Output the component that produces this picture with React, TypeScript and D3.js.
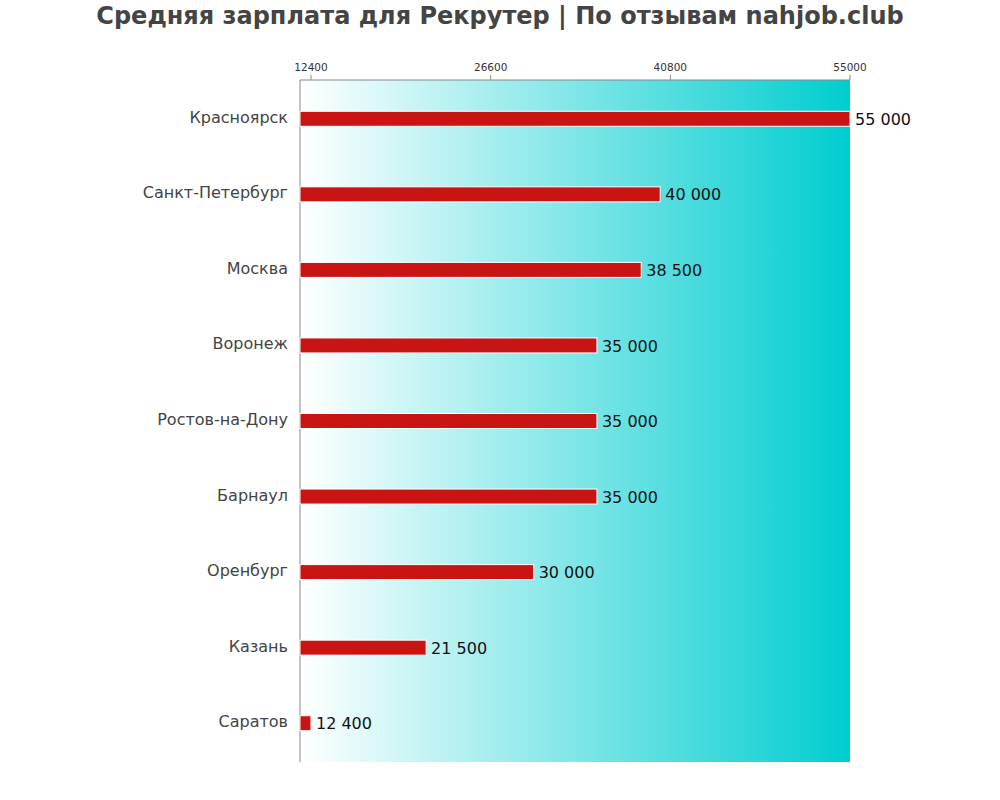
import React from 'react';
import * as d3 from 'd3';

const cities = ['Красноярск', 'Санкт-Петербург', 'Москва', 'Воронеж', 'Ростов-на-Дону', 'Барнаул', 'Оренбург', 'Казань', 'Саратов'];
const salaries = [55000, 40000, 38500, 35000, 35000, 35000, 30000, 21500, 12400];
const tickValues = [12400, 26600, 40800, 55000];

const width = 1000;
const height = 800;
const margin = { top: 80, right: 150, bottom: 38, left: 300 };

export default function App() {
  const innerW = width - margin.left - margin.right;
  const innerH = height - margin.top - margin.bottom;

  const x = d3.scaleLinear()
    .domain([d3.min(salaries)! * 0.93, d3.max(salaries)!])
    .range([0, innerW]);

  // bars sit a hair lower than the plain band layout
  const y = d3.scaleBand()
    .domain(cities)
    .range([1, innerH - 1])
    .paddingInner(0.8)
    .paddingOuter(0.4);

  const fmt = (v: number) => d3.format(',')(v).replace(/,/g, ' ');
  const barH = 15;

  return (
    <svg width={width} height={height} style={{ display: 'block', position: 'absolute', left: 0, top: 0, fontFamily: 'DejaVu Sans, Verdana, sans-serif' }}>
      <defs>
        <linearGradient id="bg" x1="0" x2="1" y1="0" y2="0">
          <stop offset="0%" stopColor="#ffffff" />
          <stop offset="100%" stopColor="#00cdd0" />
        </linearGradient>
      </defs>
      <text x={width / 2} y={24} textAnchor="middle" fontSize={24} fontWeight="bold" fill="#444">
        Средняя зарплата для Рекрутер | По отзывам nahjob.club
      </text>
      <g transform={`translate(${margin.left},${margin.top})`}>
        <rect x={0} y={0} width={innerW} height={innerH} fill="url(#bg)" />
        <line x1={0} x2={innerW} y1={0} y2={0} stroke="#888" />
        <line x1={0} x2={0} y1={0} y2={innerH} stroke="#888" />
        {tickValues.map(t => (
          <g key={t} transform={`translate(${x(t)},0)`}>
            <line y1={0} y2={-5} stroke="#888" />
            <text y={-9} textAnchor="middle" fontSize={10.5} fill="#333">{t}</text>
          </g>
        ))}
        {cities.map((c, i) => {
          const cy = y(c)! + y.bandwidth() / 2;
          return (
            <g key={c}>
              <text x={-12} y={cy} dy="0.25em" textAnchor="end" fontSize={16} fill="#444">{c}</text>
              <rect x={0} y={cy - barH / 2} width={x(salaries[i])} height={barH}
                fill="#c91414" stroke="#fff" strokeWidth={1} />
              <text x={x(salaries[i]) + 5} y={cy} dy="0.38em" fontSize={16} fill="#111">{fmt(salaries[i])}</text>
            </g>
          );
        })}
      </g>
    </svg>
  );
}
